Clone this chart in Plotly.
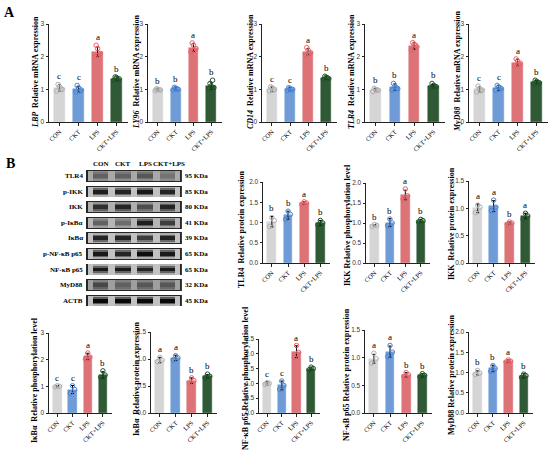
import numpy as np
import plotly.graph_objects as go

W, H = 550, 453

GROUPS = ["CON", "CKT", "LPS", "CKT+LPS"]
FILL = ["#d5d5d5", "#6f9cd6", "#dd7377", "#2f5a35"]
EDGE = ["#b0b0b0", "#4a84d4", "#e8626a", "#1d5224"]

# --- A: relative mRNA expression ---
LBP_MEAN = [1.05, 1.00, 2.15, 1.33]
LBP_SD = [0.10, 0.08, 0.15, 0.05]
LBP_LET = ["c", "c", "a", "b"]
LBP_PTS = [[0.95, 1.00, 1.08, 1.15, 1.02], [0.92, 0.98, 1.05, 1.12, 0.95],
           [2.00, 2.10, 2.25, 2.35, 2.05], [1.28, 1.32, 1.36, 1.38, 1.30]]

LY96_MEAN = [0.99, 1.02, 2.28, 1.10]
LY96_SD = [0.03, 0.05, 0.12, 0.10]
LY96_LET = ["b", "b", "a", "b"]
LY96_PTS = [[0.96, 0.98, 1.00, 1.02, 0.99], [0.98, 1.00, 1.04, 1.06, 1.01],
            [2.15, 2.25, 2.35, 2.42, 2.20], [1.02, 1.05, 1.10, 1.18, 1.28]]

CD14_MEAN = [1.00, 1.00, 2.15, 1.35]
CD14_SD = [0.07, 0.05, 0.10, 0.05]
CD14_LET = ["c", "c", "a", "b"]
CD14_PTS = [[0.95, 1.00, 1.05, 1.08, 0.98], [0.97, 1.00, 1.03, 1.05, 0.99],
            [2.05, 2.12, 2.20, 2.28, 2.10], [1.30, 1.33, 1.37, 1.40, 1.35]]

TLR4_MEAN = [0.98, 1.07, 2.33, 1.10]
TLR4_SD = [0.05, 0.10, 0.10, 0.05]
TLR4_LET = ["b", "b", "a", "b"]
TLR4_PTS = [[0.93, 0.97, 1.00, 1.03, 0.98], [0.98, 1.02, 1.10, 1.18, 1.05],
            [2.20, 2.30, 2.38, 2.43, 2.35], [1.05, 1.08, 1.12, 1.18, 1.10]]

MYD88_MEAN = [1.00, 1.04, 1.82, 1.22]
MYD88_SD = [0.08, 0.08, 0.10, 0.05]
MYD88_LET = ["c", "c", "a", "b"]
MYD88_PTS = [[0.92, 0.98, 1.03, 1.10, 0.96], [0.97, 1.02, 1.07, 1.12, 1.05],
             [1.72, 1.80, 1.87, 1.93, 1.78], [1.17, 1.20, 1.24, 1.28, 1.22]]

# --- B: western blot quantification ---
TLR4P_MEAN = [1.02, 1.18, 1.48, 0.99]
TLR4P_SD = [0.13, 0.10, 0.03, 0.06]
TLR4P_LET = ["b", "b", "a", "b"]
TLR4P_PTS = [[0.90, 1.05, 1.12], [1.08, 1.20, 1.28], [1.45, 1.48, 1.51], [0.94, 0.99, 1.05]]

PIKK_MEAN = [0.94, 1.01, 1.70, 1.06]
PIKK_SD = [0.02, 0.10, 0.12, 0.03]
PIKK_LET = ["b", "b", "a", "b"]
PIKK_PTS = [[0.92, 0.94, 0.96], [0.93, 1.00, 1.10], [1.60, 1.68, 1.85], [1.03, 1.06, 1.09]]

IKK_MEAN = [1.00, 1.04, 0.73, 0.86]
IKK_SD = [0.08, 0.10, 0.02, 0.05]
IKK_LET = ["a", "a", "b", "a"]
IKK_PTS = [[0.92, 1.02, 1.06], [0.96, 1.02, 1.15], [0.71, 0.73, 0.75], [0.80, 0.86, 0.91]]

PIKB_MEAN = [1.00, 0.88, 2.12, 1.43]
PIKB_SD = [0.03, 0.15, 0.12, 0.12]
PIKB_LET = ["c", "c", "a", "b"]
PIKB_PTS = [[0.98, 1.00, 1.02], [0.75, 0.88, 1.02], [2.02, 2.10, 2.25], [1.33, 1.42, 1.58]]

IKB_MEAN = [0.98, 1.02, 0.60, 0.68]
IKB_SD = [0.05, 0.05, 0.05, 0.03]
IKB_LET = ["a", "a", "b", "b"]
IKB_PTS = [[0.95, 0.98, 1.03], [0.98, 1.02, 1.06], [0.56, 0.60, 0.65], [0.65, 0.68, 0.72]]

PNF_MEAN = [1.00, 0.93, 2.07, 1.50]
PNF_SD = [0.05, 0.15, 0.20, 0.05]
PNF_LET = ["c", "c", "a", "b"]
PNF_PTS = [[0.97, 1.00, 1.03], [0.80, 0.93, 1.08], [1.88, 2.05, 2.28], [1.46, 1.50, 1.55]]

NF_MEAN = [0.98, 1.11, 0.69, 0.68]
NF_SD = [0.08, 0.10, 0.04, 0.03]
NF_LET = ["a", "a", "b", "b"]
NF_PTS = [[0.90, 0.98, 1.08], [1.02, 1.10, 1.22], [0.66, 0.69, 0.73], [0.65, 0.68, 0.71]]

MYDP_MEAN = [0.99, 1.10, 1.28, 0.92]
MYDP_SD = [0.05, 0.08, 0.03, 0.05]
MYDP_LET = ["b", "b", "a", "b"]
MYDP_PTS = [[0.95, 0.99, 1.05], [1.03, 1.10, 1.17], [1.26, 1.28, 1.31], [0.88, 0.92, 0.96]]

# blot: band darkness (0 white .. 1 black) per row and lane
BLOT_ROWS = ["TLR4", "p-IKK", "IKK", "p-IκBα", "IκBα", "p-NF-κB p65", "NF-κB p65", "MyD88", "ACTB"]
BLOT_KDA = ["95 KDa", "85 KDa", "80 KDa", "41 KDa", "39 KDa", "65 KDa", "65 KDa", "32 KDa", "45 KDa"]
BLOT_BG = [0.45, 0.32, 0.42, 0.38, 0.32, 0.32, 0.32, 0.50, 0.32]
BLOT_BANDS = [[0.62, 0.62, 0.66, 0.55],
              [0.88, 0.86, 0.90, 0.86],
              [0.82, 0.86, 0.70, 0.86],
              [0.62, 0.58, 0.88, 0.76],
              [0.86, 0.86, 0.76, 0.86],
              [0.90, 0.86, 0.95, 0.90],
              [0.90, 0.90, 0.86, 0.90],
              [0.72, 0.62, 0.66, 0.66],
              [0.96, 0.96, 0.96, 0.96]]

# (means, sd, letters, points, y max, y step, tick format, box px l r t b, title, title x/y px)
CHARTS = [
    (LBP_MEAN, LBP_SD, LBP_LET, LBP_PTS, 3, 1, "d", (49, 128, 24, 122),
     "<i>LBP</i>\u00a0\u00a0Relative mRNA expression", (35, 72)),
    (LY96_MEAN, LY96_SD, LY96_LET, LY96_PTS, 3, 1, "d", (148, 222, 24, 122),
     "<i>LY96</i>\u00a0\u00a0Relative mRNA expression", (136, 72)),
    (CD14_MEAN, CD14_SD, CD14_LET, CD14_PTS, 3, 1, "d", (262, 337, 24, 122),
     "<i>CD14</i>\u00a0\u00a0Relative mRNA expression", (250, 72)),
    (TLR4_MEAN, TLR4_SD, TLR4_LET, TLR4_PTS, 3, 1, "d", (365, 445, 24, 122),
     "<i>TLR4</i>\u00a0\u00a0Relative mRNA expression", (351, 72)),
    (MYD88_MEAN, MYD88_SD, MYD88_LET, MYD88_PTS, 3, 1, "d", (469, 548, 24, 122),
     "<i>MyD88</i>\u00a0\u00a0Relative mRNA expression", (457, 72)),
    (TLR4P_MEAN, TLR4P_SD, TLR4P_LET, TLR4P_PTS, 2, 0.5, ".1f", (263, 330, 182, 263),
     "TLR4\u00a0\u00a0Relative protein expression", (241, 229)),
    (PIKK_MEAN, PIKK_SD, PIKK_LET, PIKK_PTS, 2, 0.5, ".1f", (366, 430, 183, 263),
     "IKK Relative phosphorylation level", (347, 225)),
    (IKK_MEAN, IKK_SD, IKK_LET, IKK_PTS, 1.5, 0.5, ".1f", (469, 535, 181, 263),
     "IKK\u00a0\u00a0Relative protein expression", (451, 224)),
    (PIKB_MEAN, PIKB_SD, PIKB_LET, PIKB_PTS, 3, 1, "d", (49, 112, 333, 413),
     "IκBα\u00a0\u00a0Relative phosphorylation level", (34, 380)),
    (IKB_MEAN, IKB_SD, IKB_LET, IKB_PTS, 1.5, 0.5, ".1f", (151, 217, 332, 413),
     "IκBα\u00a0\u00a0Relative protein expression", (136, 379)),
    (PNF_MEAN, PNF_SD, PNF_LET, PNF_PTS, 2.5, 0.5, ".1f", (259, 320, 339, 413),
     "NF-κB p65 Relative phosphorylation level", (245, 378)),
    (NF_MEAN, NF_SD, NF_LET, NF_PTS, 1.5, 0.5, ".1f", (365, 432, 330, 413),
     "NF-κB p65 Relative protein expression", (346, 375)),
    (MYDP_MEAN, MYDP_SD, MYDP_LET, MYDP_PTS, 2, 0.5, ".1f", (469, 533, 332, 413),
     "MyD88 Relative protein expression", (451, 375)),
]

SERIF = "Liberation Serif, Times New Roman, serif"
SANS = "Liberation Sans, Arial, sans-serif"
JITTER = [-0.16, 0.16, 0.0, -0.08, 0.08]


def px_x(p):
    return p / W


def px_y(p):
    return 1 - p / H


fig = go.Figure()
annotations = []
layout_axes = {}

for i, (mean, sd, lets, pts, ymax, step, fmt, box, title, tpos) in enumerate(CHARTS):
    n = i + 1
    xa, ya = ("x", "y") if n == 1 else (f"x{n}", f"y{n}")
    xk, yk = ("xaxis", "yaxis") if n == 1 else (f"xaxis{n}", f"yaxis{n}")
    l, r, t, b = box
    xs = list(range(4))
    fig.add_trace(go.Bar(
        x=xs, y=mean, width=0.55, xaxis=xa, yaxis=ya,
        marker=dict(color=FILL, line=dict(color=FILL, width=0.5)),
        error_y=dict(type="data", array=sd, color="black", thickness=1, width=1.5),
        showlegend=False, hoverinfo="skip"))
    for g in range(4):
        fig.add_trace(go.Scatter(
            x=[g + JITTER[k % len(JITTER)] * 0.9 for k in range(len(pts[g]))], y=pts[g],
            mode="markers", xaxis=xa, yaxis=ya,
            marker=dict(symbol="circle-open", size=4.5, color=EDGE[g], line=dict(width=1)),
            showlegend=False, hoverinfo="skip"))
        top = max(mean[g] + sd[g], max(pts[g]))
        annotations.append(dict(x=g, y=top, xref=xa, yref=ya, text=lets[g], showarrow=False,
                                xanchor="center", yanchor="bottom", yshift=1,
                                font=dict(family=SERIF, size=9, color="black")))
    tick_vals = list(np.arange(0, ymax + 1e-9, step))
    layout_axes[xk] = dict(
        domain=[px_x(l), px_x(r)], anchor=ya, range=[-0.55, 3.6], automargin=False,
        tickvals=xs, ticktext=GROUPS, tickangle=-45,
        tickfont=dict(family=SERIF, size=6.5, color="black"),
        showline=True, linecolor="#222", linewidth=1, ticks="outside", ticklen=2.5,
        tickwidth=1, tickcolor="#222", showgrid=False, zeroline=False, fixedrange=True)
    layout_axes[yk] = dict(
        domain=[px_y(b), px_y(t)], anchor=xa, range=[0, ymax], automargin=False,
        tickvals=tick_vals, tickformat=fmt,
        tickfont=dict(family=SANS, size=6.5, color="#333"),
        showline=True, linecolor="#222", linewidth=1, ticks="outside", ticklen=2.5,
        tickwidth=1, tickcolor="#222", showgrid=False, zeroline=False, fixedrange=True)
    annotations.append(dict(x=px_x(tpos[0]), y=px_y(tpos[1]), xref="paper", yref="paper",
                            text=f"<b>{title}</b>", textangle=-90, showarrow=False,
                            xanchor="center", yanchor="middle",
                            font=dict(family=SERIF, size=8, color="black")))

# western blot drawn as a heatmap of band darkness
nb = len(CHARTS) + 1
bx, by = f"x{nb}", f"y{nb}"
lane_x = np.round(np.arange(-0.6, 3.601, 0.1), 3)
row_y = np.round(np.arange(-0.5, len(BLOT_ROWS) - 0.5 + 1e-9, 0.05), 3)
z = np.full((len(row_y), len(lane_x)), np.nan)
for iy, yv in enumerate(row_y):
    rr = int(round(yv))
    dy = abs(yv - rr)
    if dy > 0.36 or rr < 0 or rr >= len(BLOT_ROWS):
        continue
    for jx, xv in enumerate(lane_x):
        if xv < -0.52 or xv > 3.52 or dy > 0.31:
            z[iy, jx] = 0.85
            continue
        lane = min(max(int(round(xv)), 0), 3)
        dx = abs(xv - lane)
        if dx < 0.36 and dy < 0.14:
            z[iy, jx] = BLOT_BANDS[rr][lane]
        elif dx < 0.36 and dy < 0.22:
            z[iy, jx] = 0.5 * (BLOT_BANDS[rr][lane] + BLOT_BG[rr])
        elif dx < 0.36:
            z[iy, jx] = BLOT_BG[rr]
        else:
            z[iy, jx] = BLOT_BG[rr] * 0.75

fig.add_trace(go.Heatmap(x=lane_x, y=row_y, z=z, xaxis=bx, yaxis=by, zmin=0, zmax=1,
                         colorscale=[[0, "#ffffff"], [1, "#000000"]], showscale=False,
                         hoverinfo="skip"))
lane_px = 22.3
layout_axes[f"xaxis{nb}"] = dict(domain=[px_x(100.5 - 0.65 * lane_px), px_x(100.5 + 3.65 * lane_px)],
                                 range=[-0.65, 3.65], anchor=by, visible=False, fixedrange=True)
row_px = 15.6
layout_axes[f"yaxis{nb}"] = dict(domain=[px_y(176 + 8.55 * row_px), px_y(176 - 0.55 * row_px)],
                                 range=[8.55, -0.55], anchor=bx, visible=False, fixedrange=True)

blot_font = dict(family=SERIF, size=7, color="black")
for k, g in enumerate(GROUPS):
    annotations.append(dict(x=k, y=px_y(164), xref=bx, yref="paper", text=f"<b>{g}</b>",
                            xanchor="center", yanchor="middle", xshift=2 if k == 3 else 0,
                            showarrow=False, font=blot_font))
for k, name in enumerate(BLOT_ROWS):
    annotations.append(dict(x=px_x(85), y=k, xref="paper", yref=by, text=f"<b>{name}</b>",
                            xanchor="right", yanchor="middle", showarrow=False, font=blot_font))
    annotations.append(dict(x=px_x(183), y=k, xref="paper", yref=by, text=f"<b>{BLOT_KDA[k]}</b>",
                            xanchor="left", yanchor="middle", showarrow=False, font=blot_font))

for lab, (lx, ly) in [("A", (9, 12)), ("B", (10, 163))]:
    annotations.append(dict(x=px_x(lx), y=px_y(ly), xref="paper", yref="paper",
                            text=f"<b>{lab}</b>", showarrow=False,
                            xanchor="center", yanchor="middle",
                            font=dict(family=SERIF, size=14, color="black")))

fig.update_layout(template="none", width=W, height=H, margin=dict(l=0, r=0, t=0, b=0),
                  paper_bgcolor="white", plot_bgcolor="white",
                  bargap=0, showlegend=False, annotations=annotations, **layout_axes)

# the page body has a default margin; remove it so the figure starts at the window corner
fig.write_html("out.html", config={"displayModeBar": False},
               post_script="document.body.style.margin='0';document.body.style.overflow='hidden';")
